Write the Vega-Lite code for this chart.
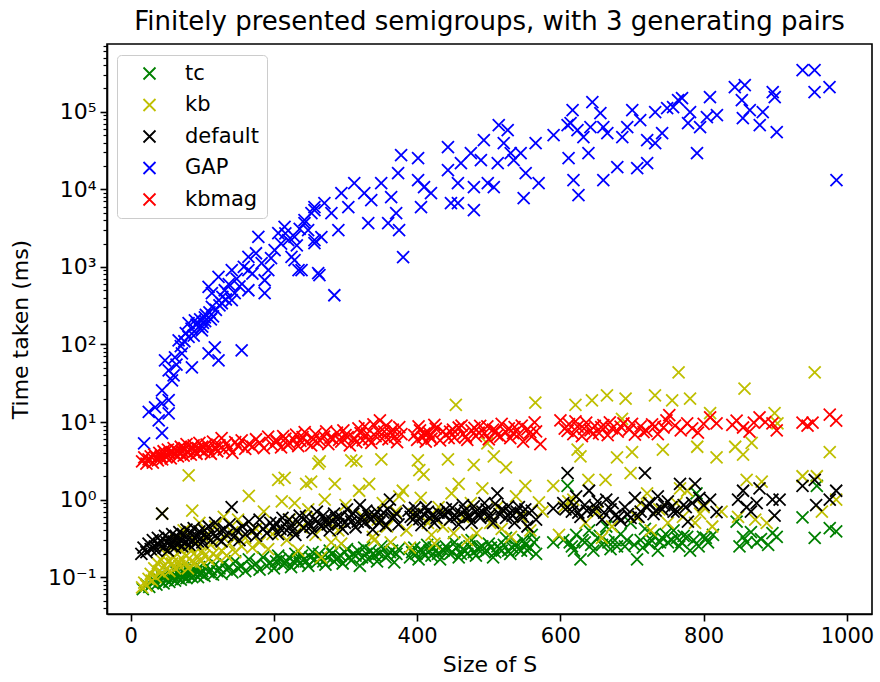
{
  "$schema": "https://vega.github.io/schema/vega-lite/v6.json",
  "width": 765,
  "height": 570,
  "autosize": {"type": "none"},
  "padding": {"left": 107, "top": 44, "right": 8, "bottom": 68},
  "background": "white",
  "title": {"text": "Finitely presented semigroups, with 3 generating pairs", "font": "DejaVu Sans", "fontSize": 26, "fontWeight": "normal", "color": "black", "anchor": "middle", "offset": 9},
  "config": {
    "view": {"stroke": "black", "strokeWidth": 1.6},
    "axis": {"labelFont": "DejaVu Sans", "titleFont": "DejaVu Sans", "labelFontSize": 21, "titleFontSize": 22, "titleFontWeight": "normal", "labelColor": "black", "titleColor": "black", "tickColor": "black", "domainColor": "black", "domainWidth": 1.6, "tickWidth": 1.6, "grid": false, "labelFlush": false, "labelOverlap": false}
  },
  "resolve": {"axis": {"y": "independent"}},
  "layer": [
    {
      "data": {"values": [
{"s":"tc","x":17,"y":0.07},{"s":"tc","x":22,"y":0.08},{"s":"tc","x":26,"y":0.075},{"s":"tc","x":30,"y":0.085},{"s":"tc","x":33,"y":0.09},{"s":"tc","x":36,"y":0.08},{"s":"tc","x":39,"y":0.095},{"s":"tc","x":42,"y":0.088},{"s":"tc","x":44,"y":0.1},{"s":"tc","x":46,"y":0.083},{"s":"tc","x":48,"y":0.105},{"s":"tc","x":50,"y":0.092},{"s":"tc","x":52,"y":0.1},{"s":"tc","x":54,"y":0.087},{"s":"tc","x":56,"y":0.11},{"s":"tc","x":58,"y":0.095},{"s":"tc","x":60,"y":0.102},{"s":"tc","x":62,"y":0.09},{"s":"tc","x":64,"y":0.115},{"s":"tc","x":66,"y":0.098},{"s":"tc","x":68,"y":0.107},{"s":"tc","x":70,"y":0.093},{"s":"tc","x":72,"y":0.12},{"s":"tc","x":74,"y":0.1},{"s":"tc","x":76,"y":0.11},{"s":"tc","x":78,"y":0.097},{"s":"tc","x":80,"y":0.125},{"s":"tc","x":82,"y":0.105},{"s":"tc","x":84,"y":0.113},{"s":"tc","x":86,"y":0.1},{"s":"tc","x":88,"y":0.13},{"s":"tc","x":90,"y":0.108},{"s":"tc","x":92,"y":0.117},{"s":"tc","x":94,"y":0.1},{"s":"tc","x":96,"y":0.135},{"s":"tc","x":98,"y":0.11},{"s":"tc","x":100,"y":0.12},{"s":"tc","x":103,"y":0.104},{"s":"tc","x":106,"y":0.14},{"s":"tc","x":109,"y":0.115},{"s":"tc","x":112,"y":0.125},{"s":"tc","x":115,"y":0.108},{"s":"tc","x":118,"y":0.145},{"s":"tc","x":121,"y":0.12},{"s":"tc","x":124,"y":0.13},{"s":"tc","x":127,"y":0.11},{"s":"tc","x":130,"y":0.15},{"s":"tc","x":134,"y":0.125},{"s":"tc","x":138,"y":0.135},{"s":"tc","x":142,"y":0.115},{"s":"tc","x":146,"y":0.16},{"s":"tc","x":150,"y":0.13},{"s":"tc","x":155,"y":0.14},{"s":"tc","x":160,"y":0.12},{"s":"tc","x":165,"y":0.17},{"s":"tc","x":170,"y":0.135},{"s":"tc","x":175,"y":0.15},{"s":"tc","x":180,"y":0.125},{"s":"tc","x":185,"y":0.18},{"s":"tc","x":190,"y":0.14},{"s":"tc","x":195,"y":0.155},{"s":"tc","x":200,"y":0.13},{"s":"tc","x":206,"y":0.19},{"s":"tc","x":212,"y":0.145},{"s":"tc","x":218,"y":0.16},{"s":"tc","x":224,"y":0.135},{"s":"tc","x":230,"y":0.2},{"s":"tc","x":236,"y":0.15},{"s":"tc","x":242,"y":0.17},{"s":"tc","x":248,"y":0.14},{"s":"tc","x":254,"y":0.21},{"s":"tc","x":260,"y":0.155},{"s":"tc","x":266,"y":0.175},{"s":"tc","x":272,"y":0.145},{"s":"tc","x":278,"y":0.22},{"s":"tc","x":284,"y":0.16},{"s":"tc","x":290,"y":0.18},{"s":"tc","x":296,"y":0.15},{"s":"tc","x":302,"y":0.23},{"s":"tc","x":308,"y":0.165},{"s":"tc","x":314,"y":0.19},{"s":"tc","x":320,"y":0.14},{"s":"tc","x":326,"y":0.24},{"s":"tc","x":332,"y":0.17},{"s":"tc","x":338,"y":0.2},{"s":"tc","x":344,"y":0.16},{"s":"tc","x":350,"y":0.25},{"s":"tc","x":356,"y":0.18},{"s":"tc","x":362,"y":0.21},{"s":"tc","x":368,"y":0.155},{"s":"tc","x":374,"y":0.23},{"s":"tc","x":390,"y":0.18},{"s":"tc","x":396,"y":0.24},{"s":"tc","x":402,"y":0.17},{"s":"tc","x":408,"y":0.21},{"s":"tc","x":414,"y":0.26},{"s":"tc","x":420,"y":0.19},{"s":"tc","x":426,"y":0.22},{"s":"tc","x":432,"y":0.17},{"s":"tc","x":440,"y":0.25},{"s":"tc","x":446,"y":0.2},{"s":"tc","x":452,"y":0.28},{"s":"tc","x":458,"y":0.18},{"s":"tc","x":464,"y":0.23},{"s":"tc","x":470,"y":0.2},{"s":"tc","x":476,"y":0.3},{"s":"tc","x":482,"y":0.19},{"s":"tc","x":488,"y":0.24},{"s":"tc","x":494,"y":0.21},{"s":"tc","x":500,"y":0.27},{"s":"tc","x":506,"y":0.18},{"s":"tc","x":512,"y":0.25},{"s":"tc","x":518,"y":0.22},{"s":"tc","x":524,"y":0.32},{"s":"tc","x":530,"y":0.2},{"s":"tc","x":536,"y":0.26},{"s":"tc","x":542,"y":0.23},{"s":"tc","x":548,"y":0.3},{"s":"tc","x":554,"y":0.22},{"s":"tc","x":560,"y":0.35},{"s":"tc","x":566,"y":0.2},{"s":"tc","x":590,"y":0.28},{"s":"tc","x":604,"y":0.3},{"s":"tc","x":610,"y":1.5},{"s":"tc","x":616,"y":0.25},{"s":"tc","x":622,"y":0.35},{"s":"tc","x":628,"y":0.17},{"s":"tc","x":634,"y":0.28},{"s":"tc","x":640,"y":0.4},{"s":"tc","x":646,"y":0.22},{"s":"tc","x":652,"y":0.32},{"s":"tc","x":658,"y":0.26},{"s":"tc","x":664,"y":0.45},{"s":"tc","x":670,"y":0.23},{"s":"tc","x":676,"y":0.3},{"s":"tc","x":684,"y":0.36},{"s":"tc","x":690,"y":0.25},{"s":"tc","x":698,"y":0.5},{"s":"tc","x":707,"y":0.17},{"s":"tc","x":712,"y":0.3},{"s":"tc","x":718,"y":0.42},{"s":"tc","x":724,"y":0.27},{"s":"tc","x":730,"y":0.35},{"s":"tc","x":736,"y":0.22},{"s":"tc","x":742,"y":0.32},{"s":"tc","x":750,"y":0.28},{"s":"tc","x":758,"y":0.4},{"s":"tc","x":766,"y":0.25},{"s":"tc","x":772,"y":0.34},{"s":"tc","x":777,"y":0.33},{"s":"tc","x":781,"y":0.22},{"s":"tc","x":790,"y":1.2},{"s":"tc","x":799,"y":0.33},{"s":"tc","x":806,"y":0.28},{"s":"tc","x":813,"y":0.35},{"s":"tc","x":846,"y":0.52},{"s":"tc","x":850,"y":0.25},{"s":"tc","x":855,"y":0.33},{"s":"tc","x":860,"y":0.28},{"s":"tc","x":866,"y":0.38},{"s":"tc","x":874,"y":0.28},{"s":"tc","x":880,"y":0.31},{"s":"tc","x":890,"y":0.26},{"s":"tc","x":896,"y":0.37},{"s":"tc","x":902,"y":0.33},{"s":"tc","x":938,"y":0.59},{"s":"tc","x":955,"y":0.32},{"s":"tc","x":958,"y":1.5},{"s":"tc","x":976,"y":0.43},{"s":"tc","x":985,"y":0.39},
{"s":"tc","x":203,"y":0.16},{"s":"tc","x":209,"y":0.17},{"s":"tc","x":215,"y":0.15},{"s":"tc","x":221,"y":0.18},{"s":"tc","x":227,"y":0.16},{"s":"tc","x":233,"y":0.17},{"s":"tc","x":239,"y":0.19},{"s":"tc","x":245,"y":0.16},{"s":"tc","x":251,"y":0.18},{"s":"tc","x":257,"y":0.17},{"s":"tc","x":263,"y":0.2},{"s":"tc","x":269,"y":0.16},{"s":"tc","x":275,"y":0.18},{"s":"tc","x":281,"y":0.2},{"s":"tc","x":287,"y":0.17},{"s":"tc","x":293,"y":0.19},{"s":"tc","x":299,"y":0.21},{"s":"tc","x":305,"y":0.18},{"s":"tc","x":311,"y":0.2},{"s":"tc","x":317,"y":0.22},{"s":"tc","x":323,"y":0.18},{"s":"tc","x":329,"y":0.2},{"s":"tc","x":335,"y":0.22},{"s":"tc","x":341,"y":0.19},{"s":"tc","x":347,"y":0.2},{"s":"tc","x":353,"y":0.23},{"s":"tc","x":359,"y":0.19},{"s":"tc","x":365,"y":0.22},{"s":"tc","x":371,"y":0.2},{"s":"tc","x":393,"y":0.21},{"s":"tc","x":399,"y":0.2},{"s":"tc","x":405,"y":0.23},{"s":"tc","x":411,"y":0.19},{"s":"tc","x":417,"y":0.22},{"s":"tc","x":423,"y":0.24},{"s":"tc","x":429,"y":0.2},{"s":"tc","x":437,"y":0.22},{"s":"tc","x":443,"y":0.23},{"s":"tc","x":449,"y":0.21},{"s":"tc","x":455,"y":0.24},{"s":"tc","x":461,"y":0.2},{"s":"tc","x":467,"y":0.22},{"s":"tc","x":473,"y":0.25},{"s":"tc","x":479,"y":0.21},{"s":"tc","x":485,"y":0.23},{"s":"tc","x":491,"y":0.25},{"s":"tc","x":497,"y":0.22},{"s":"tc","x":503,"y":0.24},{"s":"tc","x":509,"y":0.21},{"s":"tc","x":515,"y":0.23},{"s":"tc","x":521,"y":0.26},{"s":"tc","x":527,"y":0.22},{"s":"tc","x":533,"y":0.24},{"s":"tc","x":539,"y":0.27},{"s":"tc","x":545,"y":0.22},{"s":"tc","x":551,"y":0.26},{"s":"tc","x":557,"y":0.24},{"s":"tc","x":563,"y":0.28},{"s":"tc","x":613,"y":0.28},{"s":"tc","x":619,"y":0.22},{"s":"tc","x":631,"y":0.3},{"s":"tc","x":643,"y":0.26},{"s":"tc","x":655,"y":0.34},{"s":"tc","x":667,"y":0.28},{"s":"tc","x":679,"y":0.25},{"s":"tc","x":693,"y":0.3},{"s":"tc","x":703,"y":0.26},{"s":"tc","x":715,"y":0.24},{"s":"tc","x":727,"y":0.3},{"s":"tc","x":739,"y":0.28},{"s":"tc","x":747,"y":0.36},{"s":"tc","x":755,"y":0.3},{"s":"tc","x":763,"y":0.32},{"s":"tc","x":769,"y":0.28},{"s":"tc","x":786,"y":0.3},{"s":"tc","x":793,"y":0.25},{"s":"tc","x":803,"y":0.32},
{"s":"kb","x":16,"y":0.074},{"s":"kb","x":19,"y":0.085},{"s":"kb","x":22,"y":0.078},{"s":"kb","x":25,"y":0.095},{"s":"kb","x":28,"y":0.11},{"s":"kb","x":30,"y":0.09},{"s":"kb","x":33,"y":0.13},{"s":"kb","x":35,"y":0.1},{"s":"kb","x":38,"y":0.15},{"s":"kb","x":40,"y":0.12},{"s":"kb","x":42,"y":0.17},{"s":"kb","x":44,"y":0.66},{"s":"kb","x":45,"y":0.11},{"s":"kb","x":47,"y":0.14},{"s":"kb","x":49,"y":0.2},{"s":"kb","x":50,"y":0.13},{"s":"kb","x":52,"y":0.16},{"s":"kb","x":54,"y":0.12},{"s":"kb","x":56,"y":0.25},{"s":"kb","x":58,"y":0.15},{"s":"kb","x":60,"y":0.18},{"s":"kb","x":62,"y":0.13},{"s":"kb","x":64,"y":0.3},{"s":"kb","x":66,"y":0.16},{"s":"kb","x":68,"y":0.14},{"s":"kb","x":70,"y":0.22},{"s":"kb","x":72,"y":0.17},{"s":"kb","x":74,"y":0.4},{"s":"kb","x":76,"y":0.15},{"s":"kb","x":78,"y":0.19},{"s":"kb","x":80,"y":0.13},{"s":"kb","x":81,"y":2.05},{"s":"kb","x":83,"y":0.24},{"s":"kb","x":85,"y":0.16},{"s":"kb","x":86,"y":0.72},{"s":"kb","x":88,"y":0.2},{"s":"kb","x":90,"y":0.15},{"s":"kb","x":92,"y":0.28},{"s":"kb","x":94,"y":0.18},{"s":"kb","x":96,"y":0.5},{"s":"kb","x":98,"y":0.16},{"s":"kb","x":100,"y":0.22},{"s":"kb","x":103,"y":0.19},{"s":"kb","x":106,"y":0.35},{"s":"kb","x":109,"y":0.17},{"s":"kb","x":112,"y":0.26},{"s":"kb","x":115,"y":0.2},{"s":"kb","x":118,"y":0.45},{"s":"kb","x":121,"y":0.18},{"s":"kb","x":124,"y":0.3},{"s":"kb","x":127,"y":0.22},{"s":"kb","x":130,"y":0.6},{"s":"kb","x":134,"y":0.19},{"s":"kb","x":138,"y":0.27},{"s":"kb","x":142,"y":0.38},{"s":"kb","x":146,"y":0.21},{"s":"kb","x":150,"y":0.55},{"s":"kb","x":155,"y":0.25},{"s":"kb","x":160,"y":0.32},{"s":"kb","x":165,"y":1.12},{"s":"kb","x":170,"y":0.24},{"s":"kb","x":175,"y":0.42},{"s":"kb","x":180,"y":0.28},{"s":"kb","x":186,"y":0.7},{"s":"kb","x":192,"y":0.23},{"s":"kb","x":198,"y":0.36},{"s":"kb","x":206,"y":1.8},{"s":"kb","x":211,"y":0.95},{"s":"kb","x":215,"y":1.9},{"s":"kb","x":218,"y":0.3},{"s":"kb","x":222,"y":0.55},{"s":"kb","x":229,"y":0.9},{"s":"kb","x":234,"y":0.22},{"s":"kb","x":239,"y":0.44},{"s":"kb","x":245,"y":1.6},{"s":"kb","x":248,"y":0.75},{"s":"kb","x":252,"y":1.7},{"s":"kb","x":258,"y":0.35},{"s":"kb","x":262,"y":2.9},{"s":"kb","x":264,"y":3.1},{"s":"kb","x":266,"y":0.18},{"s":"kb","x":271,"y":1.0},{"s":"kb","x":276,"y":0.5},{"s":"kb","x":280,"y":0.28},{"s":"kb","x":285,"y":1.6},{"s":"kb","x":290,"y":0.4},{"s":"kb","x":294,"y":0.27},{"s":"kb","x":300,"y":0.85},{"s":"kb","x":308,"y":3.2},{"s":"kb","x":315,"y":3.1},{"s":"kb","x":319,"y":1.3},{"s":"kb","x":325,"y":0.6},{"s":"kb","x":333,"y":1.6},{"s":"kb","x":338,"y":0.33},{"s":"kb","x":340,"y":0.3},{"s":"kb","x":345,"y":0.55},{"s":"kb","x":350,"y":3.3},{"s":"kb","x":352,"y":0.9},{"s":"kb","x":358,"y":0.45},{"s":"kb","x":363,"y":0.28},{"s":"kb","x":370,"y":0.7},{"s":"kb","x":375,"y":1.1},{"s":"kb","x":380,"y":1.3},{"s":"kb","x":385,"y":0.4},{"s":"kb","x":390,"y":0.24},{"s":"kb","x":396,"y":0.65},{"s":"kb","x":401,"y":3.2},{"s":"kb","x":403,"y":2.4},{"s":"kb","x":405,"y":1.05},{"s":"kb","x":409,"y":2.1},{"s":"kb","x":415,"y":0.5},{"s":"kb","x":420,"y":0.35},{"s":"kb","x":424,"y":0.27},{"s":"kb","x":430,"y":0.8},{"s":"kb","x":436,"y":0.45},{"s":"kb","x":443,"y":3.3},{"s":"kb","x":448,"y":1.2},{"s":"kb","x":451,"y":0.37},{"s":"kb","x":454,"y":16.6},{"s":"kb","x":458,"y":1.6},{"s":"kb","x":464,"y":0.6},{"s":"kb","x":470,"y":0.3},{"s":"kb","x":475,"y":0.9},{"s":"kb","x":479,"y":2.8},{"s":"kb","x":483,"y":0.37},{"s":"kb","x":491,"y":1.4},{"s":"kb","x":498,"y":5.3},{"s":"kb","x":502,"y":0.5},{"s":"kb","x":507,"y":3.6},{"s":"kb","x":512,"y":0.8},{"s":"kb","x":518,"y":0.42},{"s":"kb","x":524,"y":2.6},{"s":"kb","x":531,"y":0.33},{"s":"kb","x":538,"y":1.1},{"s":"kb","x":545,"y":0.6},{"s":"kb","x":551,"y":1.5},{"s":"kb","x":558,"y":0.4},{"s":"kb","x":565,"y":17.8},{"s":"kb","x":570,"y":0.92},{"s":"kb","x":575,"y":0.7},{"s":"kb","x":590,"y":1.5},{"s":"kb","x":598,"y":0.35},{"s":"kb","x":605,"y":0.8},{"s":"kb","x":611,"y":0.95},{"s":"kb","x":618,"y":1.0},{"s":"kb","x":621,"y":16.6},{"s":"kb","x":624,"y":4.4},{"s":"kb","x":628,"y":3.6},{"s":"kb","x":635,"y":0.5},{"s":"kb","x":639,"y":1.8},{"s":"kb","x":644,"y":19},{"s":"kb","x":651,"y":0.7},{"s":"kb","x":658,"y":0.32},{"s":"kb","x":663,"y":1.8},{"s":"kb","x":665,"y":22},{"s":"kb","x":672,"y":0.45},{"s":"kb","x":679,"y":3.5},{"s":"kb","x":686,"y":11},{"s":"kb","x":691,"y":20},{"s":"kb","x":698,"y":2.2},{"s":"kb","x":700,"y":4.1},{"s":"kb","x":706,"y":0.6},{"s":"kb","x":712,"y":0.9},{"s":"kb","x":721,"y":1.2},{"s":"kb","x":726,"y":0.4},{"s":"kb","x":732,"y":22},{"s":"kb","x":738,"y":0.75},{"s":"kb","x":743,"y":4.4},{"s":"kb","x":750,"y":0.5},{"s":"kb","x":756,"y":19},{"s":"kb","x":762,"y":0.9},{"s":"kb","x":765,"y":43.7},{"s":"kb","x":767,"y":1.4},{"s":"kb","x":771,"y":0.6},{"s":"kb","x":777,"y":1.3},{"s":"kb","x":781,"y":20},{"s":"kb","x":788,"y":0.5},{"s":"kb","x":791,"y":4.8},{"s":"kb","x":795,"y":0.66},{"s":"kb","x":800,"y":0.8},{"s":"kb","x":809,"y":13},{"s":"kb","x":812,"y":0.45},{"s":"kb","x":818,"y":3.5},{"s":"kb","x":825,"y":0.7},{"s":"kb","x":844,"y":4.8},{"s":"kb","x":848,"y":0.6},{"s":"kb","x":855,"y":3.8},{"s":"kb","x":857,"y":27},{"s":"kb","x":860,"y":1.8},{"s":"kb","x":867,"y":5.4},{"s":"kb","x":872,"y":0.55},{"s":"kb","x":881,"y":1.7},{"s":"kb","x":888,"y":0.5},{"s":"kb","x":899,"y":13},{"s":"kb","x":903,"y":9.6},{"s":"kb","x":938,"y":2.0},{"s":"kb","x":955,"y":43.7},{"s":"kb","x":958,"y":2.0},{"s":"kb","x":965,"y":0.7},{"s":"kb","x":976,"y":4.1},{"s":"kb","x":985,"y":1.0},
{"s":"default","x":15,"y":0.2},{"s":"default","x":18,"y":0.24},{"s":"default","x":22,"y":0.21},{"s":"default","x":25,"y":0.27},{"s":"default","x":28,"y":0.23},{"s":"default","x":31,"y":0.3},{"s":"default","x":34,"y":0.25},{"s":"default","x":36,"y":0.22},{"s":"default","x":38,"y":0.32},{"s":"default","x":40,"y":0.26},{"s":"default","x":42,"y":0.29},{"s":"default","x":44,"y":0.66},{"s":"default","x":46,"y":0.24},{"s":"default","x":48,"y":0.34},{"s":"default","x":50,"y":0.28},{"s":"default","x":52,"y":0.22},{"s":"default","x":54,"y":0.31},{"s":"default","x":56,"y":0.26},{"s":"default","x":58,"y":0.36},{"s":"default","x":60,"y":0.29},{"s":"default","x":62,"y":0.24},{"s":"default","x":64,"y":0.33},{"s":"default","x":66,"y":0.27},{"s":"default","x":68,"y":0.38},{"s":"default","x":70,"y":0.3},{"s":"default","x":72,"y":0.25},{"s":"default","x":74,"y":0.35},{"s":"default","x":76,"y":0.28},{"s":"default","x":78,"y":0.41},{"s":"default","x":80,"y":0.31},{"s":"default","x":82,"y":0.26},{"s":"default","x":84,"y":0.37},{"s":"default","x":86,"y":0.3},{"s":"default","x":88,"y":0.43},{"s":"default","x":90,"y":0.27},{"s":"default","x":92,"y":0.34},{"s":"default","x":94,"y":0.29},{"s":"default","x":96,"y":0.39},{"s":"default","x":98,"y":0.32},{"s":"default","x":100,"y":0.28},{"s":"default","x":103,"y":0.4},{"s":"default","x":106,"y":0.33},{"s":"default","x":109,"y":0.45},{"s":"default","x":112,"y":0.3},{"s":"default","x":115,"y":0.36},{"s":"default","x":118,"y":0.5},{"s":"default","x":121,"y":0.32},{"s":"default","x":124,"y":0.38},{"s":"default","x":127,"y":0.29},{"s":"default","x":130,"y":0.42},{"s":"default","x":134,"y":0.35},{"s":"default","x":138,"y":0.48},{"s":"default","x":141,"y":0.8},{"s":"default","x":144,"y":0.33},{"s":"default","x":148,"y":0.4},{"s":"default","x":152,"y":0.3},{"s":"default","x":156,"y":0.45},{"s":"default","x":160,"y":0.36},{"s":"default","x":165,"y":0.52},{"s":"default","x":170,"y":0.4},{"s":"default","x":175,"y":0.34},{"s":"default","x":180,"y":0.55},{"s":"default","x":185,"y":0.42},{"s":"default","x":190,"y":0.37},{"s":"default","x":195,"y":0.5},{"s":"default","x":200,"y":0.44},{"s":"default","x":206,"y":0.36},{"s":"default","x":212,"y":0.58},{"s":"default","x":218,"y":0.4},{"s":"default","x":224,"y":0.47},{"s":"default","x":230,"y":0.35},{"s":"default","x":236,"y":0.62},{"s":"default","x":242,"y":0.43},{"s":"default","x":248,"y":0.5},{"s":"default","x":254,"y":0.38},{"s":"default","x":260,"y":0.7},{"s":"default","x":266,"y":0.45},{"s":"default","x":272,"y":0.55},{"s":"default","x":278,"y":0.4},{"s":"default","x":284,"y":0.66},{"s":"default","x":290,"y":0.48},{"s":"default","x":296,"y":0.42},{"s":"default","x":302,"y":0.75},{"s":"default","x":308,"y":0.52},{"s":"default","x":314,"y":0.44},{"s":"default","x":320,"y":0.85},{"s":"default","x":326,"y":0.5},{"s":"default","x":332,"y":0.62},{"s":"default","x":338,"y":0.41},{"s":"default","x":344,"y":0.7},{"s":"default","x":350,"y":0.55},{"s":"default","x":356,"y":0.46},{"s":"default","x":362,"y":1.0},{"s":"default","x":368,"y":0.6},{"s":"default","x":374,"y":0.48},{"s":"default","x":388,"y":0.72},{"s":"default","x":394,"y":0.55},{"s":"default","x":400,"y":0.65},{"s":"default","x":406,"y":0.47},{"s":"default","x":412,"y":0.8},{"s":"default","x":418,"y":0.58},{"s":"default","x":424,"y":0.5},{"s":"default","x":430,"y":0.68},{"s":"default","x":440,"y":0.75},{"s":"default","x":446,"y":0.55},{"s":"default","x":452,"y":0.62},{"s":"default","x":458,"y":0.48},{"s":"default","x":464,"y":0.85},{"s":"default","x":470,"y":0.6},{"s":"default","x":476,"y":0.5},{"s":"default","x":482,"y":0.7},{"s":"default","x":488,"y":0.58},{"s":"default","x":494,"y":0.9},{"s":"default","x":500,"y":0.62},{"s":"default","x":506,"y":0.5},{"s":"default","x":512,"y":1.2},{"s":"default","x":518,"y":0.75},{"s":"default","x":524,"y":0.58},{"s":"default","x":530,"y":0.68},{"s":"default","x":536,"y":0.5},{"s":"default","x":542,"y":0.8},{"s":"default","x":548,"y":0.6},{"s":"default","x":554,"y":0.45},{"s":"default","x":560,"y":0.72},{"s":"default","x":566,"y":0.55},{"s":"default","x":590,"y":0.77},{"s":"default","x":604,"y":0.9},{"s":"default","x":610,"y":2.2},{"s":"default","x":616,"y":0.7},{"s":"default","x":622,"y":1.1},{"s":"default","x":628,"y":0.6},{"s":"default","x":634,"y":0.85},{"s":"default","x":640,"y":1.3},{"s":"default","x":646,"y":0.7},{"s":"default","x":652,"y":0.95},{"s":"default","x":658,"y":0.55},{"s":"default","x":664,"y":1.0},{"s":"default","x":670,"y":0.75},{"s":"default","x":676,"y":0.62},{"s":"default","x":684,"y":0.54},{"s":"default","x":690,"y":0.8},{"s":"default","x":698,"y":0.58},{"s":"default","x":704,"y":1.05},{"s":"default","x":712,"y":0.7},{"s":"default","x":718,"y":2.2},{"s":"default","x":724,"y":0.9},{"s":"default","x":730,"y":0.65},{"s":"default","x":736,"y":1.1},{"s":"default","x":742,"y":0.75},{"s":"default","x":750,"y":0.95},{"s":"default","x":758,"y":0.7},{"s":"default","x":767,"y":1.6},{"s":"default","x":772,"y":0.85},{"s":"default","x":778,"y":0.52},{"s":"default","x":788,"y":1.6},{"s":"default","x":794,"y":1.05},{"s":"default","x":800,"y":0.85},{"s":"default","x":809,"y":1.0},{"s":"default","x":818,"y":0.69},{"s":"default","x":848,"y":1.0},{"s":"default","x":855,"y":1.3},{"s":"default","x":860,"y":0.8},{"s":"default","x":866,"y":0.7},{"s":"default","x":874,"y":0.9},{"s":"default","x":878,"y":1.4},{"s":"default","x":896,"y":1.0},{"s":"default","x":899,"y":0.62},{"s":"default","x":906,"y":1.0},{"s":"default","x":938,"y":1.5},{"s":"default","x":955,"y":1.8},{"s":"default","x":957,"y":0.85},{"s":"default","x":976,"y":1.0},{"s":"default","x":985,"y":1.3},
{"s":"default","x":203,"y":0.5},{"s":"default","x":209,"y":0.42},{"s":"default","x":215,"y":0.48},{"s":"default","x":221,"y":0.55},{"s":"default","x":227,"y":0.4},{"s":"default","x":233,"y":0.52},{"s":"default","x":245,"y":0.6},{"s":"default","x":251,"y":0.45},{"s":"default","x":257,"y":0.55},{"s":"default","x":263,"y":0.5},{"s":"default","x":269,"y":0.62},{"s":"default","x":275,"y":0.48},{"s":"default","x":281,"y":0.53},{"s":"default","x":287,"y":0.58},{"s":"default","x":293,"y":0.6},{"s":"default","x":299,"y":0.5},{"s":"default","x":305,"y":0.6},{"s":"default","x":311,"y":0.66},{"s":"default","x":317,"y":0.52},{"s":"default","x":323,"y":0.58},{"s":"default","x":329,"y":0.72},{"s":"default","x":335,"y":0.55},{"s":"default","x":341,"y":0.62},{"s":"default","x":347,"y":0.5},{"s":"default","x":353,"y":0.68},{"s":"default","x":359,"y":0.75},{"s":"default","x":365,"y":0.58},{"s":"default","x":371,"y":0.66},{"s":"default","x":391,"y":0.6},{"s":"default","x":397,"y":0.78},{"s":"default","x":403,"y":0.56},{"s":"default","x":409,"y":0.65},{"s":"default","x":415,"y":0.7},{"s":"default","x":421,"y":0.62},{"s":"default","x":427,"y":0.58},{"s":"default","x":437,"y":0.64},{"s":"default","x":443,"y":0.68},{"s":"default","x":449,"y":0.78},{"s":"default","x":455,"y":0.6},{"s":"default","x":461,"y":0.66},{"s":"default","x":467,"y":0.72},{"s":"default","x":473,"y":0.6},{"s":"default","x":479,"y":0.82},{"s":"default","x":485,"y":0.65},{"s":"default","x":491,"y":0.7},{"s":"default","x":497,"y":0.75},{"s":"default","x":503,"y":0.6},{"s":"default","x":509,"y":0.88},{"s":"default","x":515,"y":0.65},{"s":"default","x":521,"y":0.72},{"s":"default","x":527,"y":0.82},{"s":"default","x":533,"y":0.62},{"s":"default","x":539,"y":0.7},{"s":"default","x":545,"y":0.66},{"s":"default","x":551,"y":0.75},{"s":"default","x":607,"y":0.75},{"s":"default","x":619,"y":0.85},{"s":"default","x":625,"y":0.68},{"s":"default","x":637,"y":0.72},{"s":"default","x":649,"y":0.8},{"s":"default","x":661,"y":0.68},{"s":"default","x":673,"y":0.9},{"s":"default","x":681,"y":0.6},{"s":"default","x":694,"y":0.65},{"s":"default","x":709,"y":0.6},{"s":"default","x":721,"y":0.8},{"s":"default","x":733,"y":0.72},{"s":"default","x":745,"y":0.85},{"s":"default","x":755,"y":0.8},{"s":"default","x":763,"y":0.7},{"s":"default","x":775,"y":0.8},{"s":"default","x":784,"y":0.9},
{"s":"GAP","x":18.8,"y":5.3},{"s":"GAP","x":43.8,"y":7.2},{"s":"GAP","x":25.3,"y":13.5},{"s":"GAP","x":34.1,"y":15.5},{"s":"GAP","x":43.8,"y":17.4},{"s":"GAP","x":53.1,"y":19.1},{"s":"GAP","x":39.2,"y":10.5},{"s":"GAP","x":53.1,"y":12.9},{"s":"GAP","x":43.8,"y":25.6},{"s":"GAP","x":57.7,"y":34.5},{"s":"GAP","x":53.1,"y":46.5},{"s":"GAP","x":48,"y":62.5},{"s":"GAP","x":61.9,"y":68.4},{"s":"GAP","x":71.6,"y":76.9},{"s":"GAP","x":85.5,"y":50.8},{"s":"GAP","x":67,"y":113},{"s":"GAP","x":80.9,"y":125},{"s":"GAP","x":94.9,"y":168},{"s":"GAP","x":80.9,"y":188},{"s":"GAP","x":89.7,"y":205},{"s":"GAP","x":103.6,"y":224},{"s":"GAP","x":99.4,"y":152},{"s":"GAP","x":108.8,"y":76.9},{"s":"GAP","x":122.7,"y":62.5},{"s":"GAP","x":117.5,"y":92},{"s":"GAP","x":155,"y":84.2},{"s":"GAP","x":113.4,"y":305},{"s":"GAP","x":127.3,"y":340},{"s":"GAP","x":141.2,"y":372},{"s":"GAP","x":131.4,"y":500},{"s":"GAP","x":108.8,"y":552},{"s":"GAP","x":122.7,"y":743},{"s":"GAP","x":113.4,"y":458},{"s":"GAP","x":145.3,"y":458},{"s":"GAP","x":141.2,"y":906},{"s":"GAP","x":164.4,"y":500},{"s":"GAP","x":187.1,"y":458},{"s":"GAP","x":164.4,"y":1346},{"s":"GAP","x":178.3,"y":2440},{"s":"GAP","x":164.4,"y":906},{"s":"GAP","x":182.9,"y":1117},{"s":"GAP","x":192.2,"y":906},{"s":"GAP","x":187.1,"y":673},{"s":"GAP","x":201,"y":1642},{"s":"GAP","x":206.1,"y":2724},{"s":"GAP","x":214.9,"y":3283},{"s":"GAP","x":220,"y":2213},{"s":"GAP","x":228.8,"y":2440},{"s":"GAP","x":224.6,"y":1346},{"s":"GAP","x":238.6,"y":906},{"s":"GAP","x":228.8,"y":1219},{"s":"GAP","x":242.7,"y":3664},{"s":"GAP","x":252.4,"y":4934},{"s":"GAP","x":256.6,"y":5893},{"s":"GAP","x":247.8,"y":2978},{"s":"GAP","x":256.6,"y":2213},{"s":"GAP","x":261.8,"y":829},{"s":"GAP","x":234.4,"y":906},{"s":"GAP","x":263.6,"y":782},{"s":"GAP","x":284.4,"y":431},{"s":"GAP","x":242.7,"y":4010},{"s":"GAP","x":256.6,"y":5395},{"s":"GAP","x":270.5,"y":6637},{"s":"GAP","x":280.3,"y":4934},{"s":"GAP","x":294.2,"y":8925},{"s":"GAP","x":266.3,"y":2417},{"s":"GAP","x":256.6,"y":2022},{"s":"GAP","x":290,"y":2978},{"s":"GAP","x":312.2,"y":12020},{"s":"GAP","x":303.9,"y":5893},{"s":"GAP","x":326.2,"y":8925},{"s":"GAP","x":335.9,"y":7261},{"s":"GAP","x":331.7,"y":3664},{"s":"GAP","x":349.8,"y":12020},{"s":"GAP","x":363.7,"y":7930},{"s":"GAP","x":373.4,"y":16190},{"s":"GAP","x":377.6,"y":27630},{"s":"GAP","x":370.7,"y":4934},{"s":"GAP","x":374.8,"y":2978},{"s":"GAP","x":380.4,"y":1334},{"s":"GAP","x":359.5,"y":3664},{"s":"GAP","x":401.3,"y":25290},{"s":"GAP","x":401.3,"y":13140},{"s":"GAP","x":405.4,"y":5893},{"s":"GAP","x":409.6,"y":10670},{"s":"GAP","x":419.3,"y":8925},{"s":"GAP","x":443,"y":35060},{"s":"GAP","x":443,"y":17700},{"s":"GAP","x":447.2,"y":6637},{"s":"GAP","x":456.9,"y":12020},{"s":"GAP","x":456.9,"y":6637},{"s":"GAP","x":461.1,"y":21780},{"s":"GAP","x":475,"y":29310},{"s":"GAP","x":479.2,"y":10670},{"s":"GAP","x":479.2,"y":5395},{"s":"GAP","x":489,"y":23820},{"s":"GAP","x":493.1,"y":43180},{"s":"GAP","x":498.6,"y":12020},{"s":"GAP","x":507,"y":10670},{"s":"GAP","x":512.5,"y":21780},{"s":"GAP","x":513.9,"y":67460},{"s":"GAP","x":526.4,"y":58100},{"s":"GAP","x":520.9,"y":39480},{"s":"GAP","x":530.6,"y":29310},{"s":"GAP","x":534.8,"y":23820},{"s":"GAP","x":544.5,"y":29310},{"s":"GAP","x":551.5,"y":16190},{"s":"GAP","x":548.7,"y":7700},{"s":"GAP","x":565.4,"y":39480},{"s":"GAP","x":569.6,"y":12020},{"s":"GAP","x":590.5,"y":50120},{"s":"GAP","x":610,"y":67460},{"s":"GAP","x":617,"y":105300},{"s":"GAP","x":611.4,"y":25290},{"s":"GAP","x":618.2,"y":13140},{"s":"GAP","x":644.6,"y":133400},{"s":"GAP","x":655.8,"y":96400},{"s":"GAP","x":614.2,"y":71600},{"s":"GAP","x":623.8,"y":58100},{"s":"GAP","x":641.9,"y":63560},{"s":"GAP","x":659.9,"y":63560},{"s":"GAP","x":665.5,"y":53200},{"s":"GAP","x":632.1,"y":47210},{"s":"GAP","x":639.1,"y":29310},{"s":"GAP","x":625.2,"y":8410},{"s":"GAP","x":659.9,"y":13140},{"s":"GAP","x":679.4,"y":19330},{"s":"GAP","x":686.4,"y":47210},{"s":"GAP","x":693.3,"y":63560},{"s":"GAP","x":700.3,"y":105300},{"s":"GAP","x":711.4,"y":78200},{"s":"GAP","x":707.2,"y":18790},{"s":"GAP","x":721.1,"y":21780},{"s":"GAP","x":721.1,"y":43180},{"s":"GAP","x":732.3,"y":39480},{"s":"GAP","x":742,"y":53200},{"s":"GAP","x":732.3,"y":99300},{"s":"GAP","x":749,"y":111700},{"s":"GAP","x":757.3,"y":115000},{"s":"GAP","x":764.3,"y":141600},{"s":"GAP","x":769.8,"y":150300},{"s":"GAP","x":781,"y":99300},{"s":"GAP","x":778.2,"y":71600},{"s":"GAP","x":790.7,"y":29310},{"s":"GAP","x":795,"y":63560},{"s":"GAP","x":804.5,"y":85500},{"s":"GAP","x":808.8,"y":154800},{"s":"GAP","x":818.5,"y":90800},{"s":"GAP","x":843.5,"y":208400},{"s":"GAP","x":857.4,"y":221200},{"s":"GAP","x":853.3,"y":141600},{"s":"GAP","x":854.7,"y":83000},{"s":"GAP","x":864.4,"y":105300},{"s":"GAP","x":878.3,"y":67460},{"s":"GAP","x":882.5,"y":99300},{"s":"GAP","x":902,"y":54800},{"s":"GAP","x":896.4,"y":179600},{"s":"GAP","x":899.2,"y":154800},{"s":"GAP","x":938.1,"y":345100},{"s":"GAP","x":954.8,"y":345100},{"s":"GAP","x":954.8,"y":179600},{"s":"GAP","x":975.7,"y":208400},{"s":"GAP","x":985.4,"y":13140},{"s":"GAP","x":92,"y":180},{"s":"GAP","x":97,"y":210},{"s":"GAP","x":101,"y":190},{"s":"GAP","x":105,"y":240},{"s":"GAP","x":110,"y":260},{"s":"GAP","x":115,"y":230},{"s":"GAP","x":119,"y":280},{"s":"GAP","x":124,"y":320},{"s":"GAP","x":128,"y":410},{"s":"GAP","x":133,"y":380},{"s":"GAP","x":137,"y":600},{"s":"GAP","x":148,"y":700},{"s":"GAP","x":152,"y":560},{"s":"GAP","x":158,"y":1000},{"s":"GAP","x":170,"y":820},{"s":"GAP","x":175,"y":1500},{"s":"GAP","x":196,"y":1300},{"s":"GAP","x":210,"y":2000},{"s":"GAP","x":216,"y":2700},{"s":"GAP","x":232,"y":1900},{"s":"GAP","x":236,"y":3100},{"s":"GAP","x":60,"y":40},{"s":"GAP","x":64,"y":55},{"s":"GAP","x":70,"y":95},{"s":"GAP","x":75,"y":110},{"s":"GAP","x":77,"y":140},{"s":"GAP","x":85,"y":160},{"s":"GAP","x":88,"y":130},{"s":"GAP","x":100,"y":170},{"s":"GAP","x":104,"y":200},{"s":"GAP","x":112,"y":210},
{"s":"kbmag","x":16,"y":3.1},{"s":"kbmag","x":19,"y":3.5},{"s":"kbmag","x":22,"y":2.9},{"s":"kbmag","x":25,"y":3.3},{"s":"kbmag","x":28,"y":3.6},{"s":"kbmag","x":31,"y":3.0},{"s":"kbmag","x":33,"y":3.8},{"s":"kbmag","x":36,"y":3.4},{"s":"kbmag","x":38,"y":3.2},{"s":"kbmag","x":40,"y":4.0},{"s":"kbmag","x":42,"y":3.6},{"s":"kbmag","x":44,"y":3.3},{"s":"kbmag","x":46,"y":4.2},{"s":"kbmag","x":48,"y":3.7},{"s":"kbmag","x":50,"y":3.5},{"s":"kbmag","x":52,"y":4.4},{"s":"kbmag","x":54,"y":3.9},{"s":"kbmag","x":56,"y":3.4},{"s":"kbmag","x":58,"y":4.1},{"s":"kbmag","x":60,"y":4.6},{"s":"kbmag","x":62,"y":3.8},{"s":"kbmag","x":64,"y":4.3},{"s":"kbmag","x":66,"y":3.6},{"s":"kbmag","x":68,"y":4.0},{"s":"kbmag","x":70,"y":4.8},{"s":"kbmag","x":72,"y":4.2},{"s":"kbmag","x":74,"y":3.7},{"s":"kbmag","x":76,"y":4.5},{"s":"kbmag","x":78,"y":5.2},{"s":"kbmag","x":80,"y":4.0},{"s":"kbmag","x":82,"y":4.4},{"s":"kbmag","x":84,"y":3.8},{"s":"kbmag","x":86,"y":4.7},{"s":"kbmag","x":88,"y":5.0},{"s":"kbmag","x":90,"y":4.2},{"s":"kbmag","x":92,"y":3.9},{"s":"kbmag","x":94,"y":4.6},{"s":"kbmag","x":96,"y":5.4},{"s":"kbmag","x":98,"y":4.3},{"s":"kbmag","x":100,"y":4.8},{"s":"kbmag","x":103,"y":4.1},{"s":"kbmag","x":106,"y":5.1},{"s":"kbmag","x":109,"y":4.5},{"s":"kbmag","x":112,"y":3.9},{"s":"kbmag","x":115,"y":5.6},{"s":"kbmag","x":118,"y":4.7},{"s":"kbmag","x":121,"y":4.2},{"s":"kbmag","x":124,"y":5.0},{"s":"kbmag","x":127,"y":6.2},{"s":"kbmag","x":130,"y":4.4},{"s":"kbmag","x":134,"y":5.3},{"s":"kbmag","x":138,"y":4.6},{"s":"kbmag","x":142,"y":4.0},{"s":"kbmag","x":146,"y":5.5},{"s":"kbmag","x":150,"y":4.9},{"s":"kbmag","x":155,"y":5.8},{"s":"kbmag","x":160,"y":4.5},{"s":"kbmag","x":165,"y":5.2},{"s":"kbmag","x":170,"y":4.8},{"s":"kbmag","x":175,"y":6.0},{"s":"kbmag","x":180,"y":5.4},{"s":"kbmag","x":186,"y":4.6},{"s":"kbmag","x":192,"y":6.5},{"s":"kbmag","x":198,"y":5.0},{"s":"kbmag","x":204,"y":5.6},{"s":"kbmag","x":210,"y":4.7},{"s":"kbmag","x":216,"y":6.1},{"s":"kbmag","x":222,"y":5.3},{"s":"kbmag","x":228,"y":5.9},{"s":"kbmag","x":234,"y":4.9},{"s":"kbmag","x":240,"y":6.4},{"s":"kbmag","x":246,"y":5.5},{"s":"kbmag","x":252,"y":5.0},{"s":"kbmag","x":258,"y":7.0},{"s":"kbmag","x":264,"y":5.8},{"s":"kbmag","x":270,"y":6.5},{"s":"kbmag","x":276,"y":5.2},{"s":"kbmag","x":282,"y":6.1},{"s":"kbmag","x":288,"y":7.3},{"s":"kbmag","x":294,"y":5.6},{"s":"kbmag","x":300,"y":6.8},{"s":"kbmag","x":306,"y":5.0},{"s":"kbmag","x":312,"y":6.2},{"s":"kbmag","x":318,"y":8.3},{"s":"kbmag","x":324,"y":5.8},{"s":"kbmag","x":330,"y":7.1},{"s":"kbmag","x":336,"y":5.4},{"s":"kbmag","x":342,"y":6.6},{"s":"kbmag","x":348,"y":10.5},{"s":"kbmag","x":354,"y":7.5},{"s":"kbmag","x":360,"y":6.0},{"s":"kbmag","x":366,"y":8.0},{"s":"kbmag","x":372,"y":5.5},{"s":"kbmag","x":378,"y":7.0},{"s":"kbmag","x":396,"y":6.8},{"s":"kbmag","x":400,"y":5.9},{"s":"kbmag","x":404,"y":7.8},{"s":"kbmag","x":408,"y":6.4},{"s":"kbmag","x":412,"y":5.6},{"s":"kbmag","x":416,"y":7.3},{"s":"kbmag","x":420,"y":6.1},{"s":"kbmag","x":426,"y":8.2},{"s":"kbmag","x":432,"y":5.8},{"s":"kbmag","x":440,"y":6.9},{"s":"kbmag","x":446,"y":7.5},{"s":"kbmag","x":452,"y":6.3},{"s":"kbmag","x":458,"y":8.5},{"s":"kbmag","x":464,"y":7.0},{"s":"kbmag","x":470,"y":5.9},{"s":"kbmag","x":476,"y":7.8},{"s":"kbmag","x":482,"y":6.6},{"s":"kbmag","x":488,"y":8.9},{"s":"kbmag","x":494,"y":7.2},{"s":"kbmag","x":500,"y":6.0},{"s":"kbmag","x":506,"y":8.0},{"s":"kbmag","x":512,"y":6.8},{"s":"kbmag","x":518,"y":9.5},{"s":"kbmag","x":524,"y":7.4},{"s":"kbmag","x":530,"y":6.2},{"s":"kbmag","x":536,"y":8.6},{"s":"kbmag","x":542,"y":7.0},{"s":"kbmag","x":548,"y":5.6},{"s":"kbmag","x":554,"y":8.1},{"s":"kbmag","x":560,"y":6.5},{"s":"kbmag","x":566,"y":7.6},{"s":"kbmag","x":572,"y":5.2},{"s":"kbmag","x":600,"y":10.5},{"s":"kbmag","x":606,"y":8.2},{"s":"kbmag","x":612,"y":9.4},{"s":"kbmag","x":618,"y":7.0},{"s":"kbmag","x":624,"y":8.7},{"s":"kbmag","x":630,"y":6.6},{"s":"kbmag","x":636,"y":9.8},{"s":"kbmag","x":642,"y":7.8},{"s":"kbmag","x":648,"y":8.9},{"s":"kbmag","x":654,"y":7.2},{"s":"kbmag","x":660,"y":9.1},{"s":"kbmag","x":666,"y":6.8},{"s":"kbmag","x":672,"y":8.3},{"s":"kbmag","x":680,"y":7.5},{"s":"kbmag","x":688,"y":9.6},{"s":"kbmag","x":696,"y":8.0},{"s":"kbmag","x":704,"y":6.9},{"s":"kbmag","x":712,"y":8.8},{"s":"kbmag","x":720,"y":7.7},{"s":"kbmag","x":728,"y":9.3},{"s":"kbmag","x":736,"y":7.0},{"s":"kbmag","x":744,"y":8.5},{"s":"kbmag","x":752,"y":12.3},{"s":"kbmag","x":760,"y":9.0},{"s":"kbmag","x":768,"y":7.8},{"s":"kbmag","x":777,"y":9.6},{"s":"kbmag","x":784,"y":8.3},{"s":"kbmag","x":792,"y":7.3},{"s":"kbmag","x":800,"y":9.5},{"s":"kbmag","x":809,"y":11.5},{"s":"kbmag","x":818,"y":9.6},{"s":"kbmag","x":840,"y":9.2},{"s":"kbmag","x":846,"y":10.4},{"s":"kbmag","x":855,"y":8.5},{"s":"kbmag","x":864,"y":7.5},{"s":"kbmag","x":870,"y":9.8},{"s":"kbmag","x":878,"y":11.5},{"s":"kbmag","x":886,"y":10.0},{"s":"kbmag","x":896,"y":9.6},{"s":"kbmag","x":902,"y":7.8},{"s":"kbmag","x":938,"y":9.8},{"s":"kbmag","x":945,"y":9.0},{"s":"kbmag","x":952,"y":9.8},{"s":"kbmag","x":976,"y":12.5},{"s":"kbmag","x":985,"y":10.4},
{"s":"kbmag","x":203,"y":5.9},{"s":"kbmag","x":213,"y":6.6},{"s":"kbmag","x":219,"y":5.1},{"s":"kbmag","x":231,"y":6.9},{"s":"kbmag","x":237,"y":5.7},{"s":"kbmag","x":243,"y":7.4},{"s":"kbmag","x":255,"y":6.0},{"s":"kbmag","x":261,"y":5.4},{"s":"kbmag","x":273,"y":7.6},{"s":"kbmag","x":279,"y":6.3},{"s":"kbmag","x":291,"y":5.9},{"s":"kbmag","x":297,"y":7.8},{"s":"kbmag","x":303,"y":6.4},{"s":"kbmag","x":315,"y":5.5},{"s":"kbmag","x":321,"y":7.2},{"s":"kbmag","x":327,"y":8.8},{"s":"kbmag","x":333,"y":6.0},{"s":"kbmag","x":339,"y":9.3},{"s":"kbmag","x":345,"y":7.7},{"s":"kbmag","x":351,"y":6.1},{"s":"kbmag","x":357,"y":9.0},{"s":"kbmag","x":363,"y":7.2},{"s":"kbmag","x":369,"y":6.5},{"s":"kbmag","x":375,"y":8.6},{"s":"kbmag","x":402,"y":8.8},{"s":"kbmag","x":410,"y":7.1},{"s":"kbmag","x":418,"y":6.6},{"s":"kbmag","x":424,"y":9.2},{"s":"kbmag","x":436,"y":7.6},{"s":"kbmag","x":444,"y":6.2},{"s":"kbmag","x":450,"y":8.0},{"s":"kbmag","x":462,"y":9.0},{"s":"kbmag","x":468,"y":6.5},{"s":"kbmag","x":480,"y":8.4},{"s":"kbmag","x":486,"y":7.3},{"s":"kbmag","x":498,"y":8.8},{"s":"kbmag","x":510,"y":7.7},{"s":"kbmag","x":516,"y":6.5},{"s":"kbmag","x":528,"y":8.3},{"s":"kbmag","x":534,"y":7.2},{"s":"kbmag","x":546,"y":9.0},{"s":"kbmag","x":558,"y":7.4},{"s":"kbmag","x":564,"y":9.9},{"s":"kbmag","x":610,"y":7.7},{"s":"kbmag","x":621,"y":10.2},{"s":"kbmag","x":633,"y":8.2},{"s":"kbmag","x":645,"y":7.0},{"s":"kbmag","x":657,"y":8.6},{"s":"kbmag","x":669,"y":9.9},{"s":"kbmag","x":684,"y":8.7},{"s":"kbmag","x":700,"y":9.5},{"s":"kbmag","x":716,"y":7.4},{"s":"kbmag","x":732,"y":8.8},{"s":"kbmag","x":748,"y":10.5}
      ]},
      "mark": {"type": "point", "shape": "M-1,-1L1,1M-1,1L1,-1", "filled": false, "size": 144, "strokeWidth": 1.8, "opacity": 1},
      "encoding": {
        "x": {"field": "x", "type": "quantitative", "scale": {"domain": [-33, 1035], "nice": false, "zero": false},
              "axis": {"values": [0, 200, 400, 600, 800, 1000], "format": "d", "title": "Size of S", "tickSize": 7, "labelPadding": 4, "titlePadding": 8}},
        "y": {"field": "y", "type": "quantitative", "scale": {"type": "log", "domain": [0.0335, 748000], "nice": false},
              "axis": {"values": [0.1, 1, 10, 100, 1000, 10000, 100000], "orient": "left", "title": "Time taken (ms)", "tickSize": 7, "labelPadding": 4, "titlePadding": 15, "labelFontSize": 22,
                       "labelExpr": "datum.value < 0.5 ? '10⁻¹' : datum.value < 5 ? '10⁰' : datum.value < 50 ? '10¹' : datum.value < 500 ? '10²' : datum.value < 5000 ? '10³' : datum.value < 50000 ? '10⁴' : '10⁵'"}},
        "color": {"field": "s", "type": "nominal",
                  "scale": {"domain": ["tc", "kb", "default", "GAP", "kbmag"], "range": ["#008000", "#bfbf00", "#000000", "#0000ff", "#ff0000"]},
                  "legend": {"orient": "none", "legendX": 10, "legendY": 11, "title": null, "padding": 8, "symbolOffset": 14, "labelOffset": 25, "rowPadding": 9.5,
                             "strokeColor": "#cccccc", "fillColor": "rgba(255,255,255,0.8)", "cornerRadius": 4,
                             "symbolType": "M-1,-1L1,1M-1,1L1,-1", "symbolSize": 144, "symbolStrokeWidth": 1.8,
                             "labelFont": "DejaVu Sans", "labelFontSize": 21, "labelColor": "black"}}
      }
    },
    {
      "data": {"values": [{"x": 0, "y": 1}]},
      "mark": {"type": "point", "opacity": 0},
      "encoding": {
        "x": {"field": "x", "type": "quantitative", "scale": {"domain": [-33, 1035], "nice": false, "zero": false}},
        "y": {"field": "y", "type": "quantitative", "scale": {"type": "log", "domain": [0.0335, 748000], "nice": false},
              "axis": {"orient": "left", "values": [0.04,0.05,0.06,0.07,0.08,0.09,0.2,0.3,0.4,0.5,0.6,0.7,0.8,0.9,2,3,4,5,6,7,8,9,20,30,40,50,60,70,80,90,200,300,400,500,600,700,800,900,2000,3000,4000,5000,6000,7000,8000,9000,20000,30000,40000,50000,60000,70000,80000,90000,200000,300000,400000,500000,600000,700000],
                       "labels": false, "tickSize": 4, "tickWidth": 1.2, "domain": false, "grid": false, "title": null}}
      }
    }
  ]
}
